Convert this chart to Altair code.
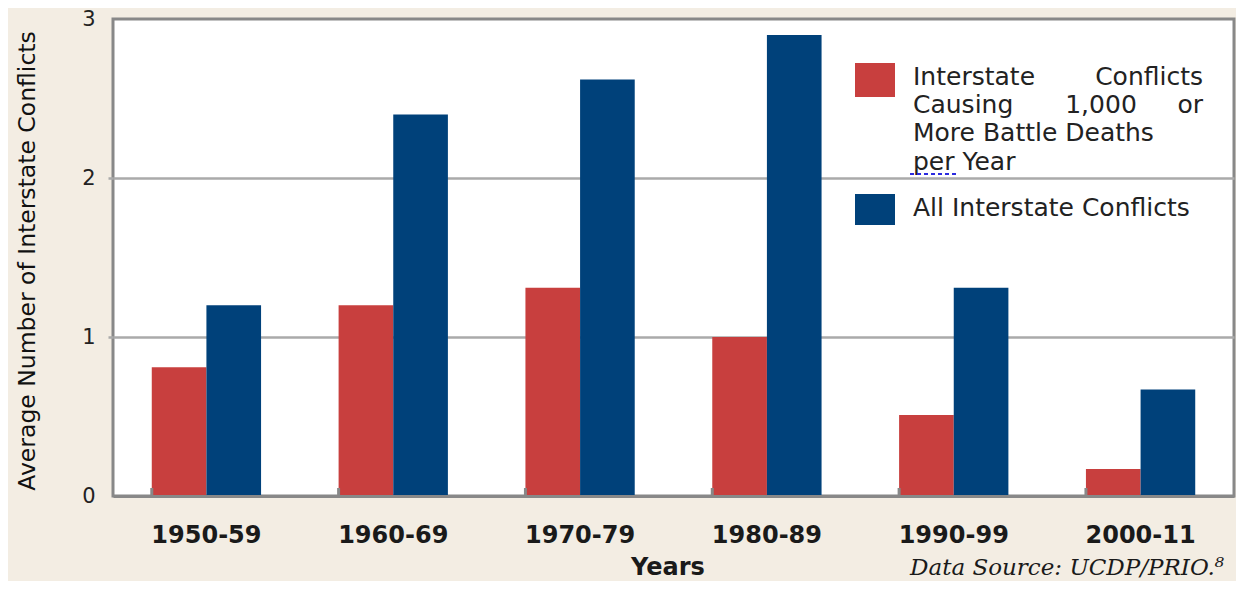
import altair as alt
import pandas as pd

# ---- data ----
periods = ["1950-59", "1960-69", "1970-79", "1980-89", "1990-99", "2000-11"]
series = ["Interstate Conflicts Causing 1,000 or More Battle Deaths per Year",
          "All Interstate Conflicts"]
major_conflicts = [0.81, 1.20, 1.31, 1.00, 0.51, 0.17]
all_conflicts = [1.20, 2.40, 2.62, 2.90, 1.31, 0.67]
y_ticks = [0, 1, 2, 3]
y_title = "Average Number of Interstate Conflicts"
x_title = "Years"
source_note = "Data Source: UCDP/PRIO.\u2078"
legend_lines = ["Interstate Conflicts", "Causing 1,000 or", "More Battle Deaths", "per Year"]

# ---- styling ----
bar_colors = ["#c83f3e", "#00417a"]
swatch_colors = ["#b8282f", "#00417a"]
BG = "#f3ede3"
FONT = "DejaVu Sans"
W, H = 1121, 477
PL = 105

rows = []
for p, a, b in zip(periods, major_conflicts, all_conflicts):
    rows.append({"period": p, "series": series[0], "value": a})
    rows.append({"period": p, "series": series[1], "value": b})
df = pd.DataFrame(rows)
pdf = pd.DataFrame({"period": periods})

xscale = alt.Scale(domain=periods, paddingInner=0.415, paddingOuter=0.2075)
edge_test = "datum.value == 0 || datum.value == 3"

bars = alt.Chart(df).mark_bar().encode(
    x=alt.X("period:N", sort=periods, scale=xscale,
            axis=alt.Axis(labels=False, ticks=False, domain=True, domainColor="#888888",
                          domainWidth=3, zindex=1, title=None, grid=False)),
    xOffset=alt.XOffset("series:N", sort=series,
                        scale=alt.Scale(domain=series, paddingInner=0, paddingOuter=0)),
    y=alt.Y("value:Q", scale=alt.Scale(domain=[0, 3], nice=False),
            axis=alt.Axis(values=y_ticks, title=None, domain=False, grid=True,
                          gridColor={"condition": {"test": edge_test, "value": "transparent"},
                                     "value": "#aaaaaa"},
                          gridWidth=2.5,
                          tickColor={"condition": {"test": edge_test, "value": "transparent"},
                                     "value": "#aaaaaa"},
                          tickSize=5, tickWidth=2.5,
                          labelFont=FONT, labelFontSize=21, labelColor="#222222",
                          labelPadding=13, labelBaseline="middle")),
    color=alt.Color("series:N", scale=alt.Scale(domain=series, range=bar_colors), legend=None),
)

seps = alt.Chart(pdf).mark_rule(color="#888888", strokeWidth=3).encode(
    x=alt.X("period:N", sort=periods, bandPosition=0),
    y=alt.value(H - 8), y2=alt.value(H),
)

xlabels = alt.Chart(pdf).mark_text(font=FONT, fontSize=24, fontWeight="bold",
                                   baseline="middle", color="#1a1a1a").encode(
    x=alt.X("period:N", sort=periods, bandPosition=0.5),
    y=alt.value(H + 40),
    text="period:N",
)

ytitle = alt.Chart(pd.DataFrame({"t": [y_title]})).mark_text(
    font=FONT, fontSize=23.5, angle=270, align="center",
    baseline="middle", color="#111111").encode(
    text="t:N", x=alt.value(-85), y=alt.value(242))

xtitle = alt.Chart(pd.DataFrame({"t": [x_title]})).mark_text(
    font=FONT, fontSize=24, fontWeight="bold", align="center",
    baseline="alphabetic", color="#1a1a1a").encode(
    text="t:N", x=alt.value(555), y=alt.value(H + 79))

source = alt.Chart(pd.DataFrame({"t": [source_note]})).mark_text(
    font="DejaVu Serif", fontSize=23, fontStyle="italic",
    align="left", baseline="alphabetic", color="#1a1a1a").encode(
    text="t:N", x=alt.value(797), y=alt.value(H + 79))

# ---- legend (drawn inside the plot) ----
sw = pd.DataFrame({"series": series, "x0": [742, 742], "x1": [782, 782],
                   "y0": [44, 175], "y1": [78, 206]})
swatches = alt.Chart(sw).mark_rect().encode(
    x=alt.X("x0:Q", scale=None), x2="x1:Q",
    y=alt.Y("y0:Q", scale=None), y2="y1:Q",
    color=alt.Color("series:N", scale=alt.Scale(domain=series, range=swatch_colors), legend=None),
)

assert " ".join(legend_lines) == series[0]
TL, TR = 800, 1090
baselines = [66, 94, 122, 151]
words = []
for i, line in enumerate(legend_lines):
    parts = line.split(" ")
    if i < 2:  # justified lines
        for j, w in enumerate(parts):
            if j == 0:
                words.append({"w": w, "x": TL, "y": baselines[i], "a": "left"})
            elif j == len(parts) - 1:
                words.append({"w": w, "x": TR, "y": baselines[i], "a": "right"})
            else:
                words.append({"w": w, "x": 988, "y": baselines[i], "a": "center"})
    else:
        words.append({"w": line, "x": TL, "y": baselines[i], "a": "left"})
words.append({"w": series[1], "x": TL, "y": 197, "a": "left"})
wdf = pd.DataFrame(words)

leg_text = []
for a in ["left", "center", "right"]:
    sub = wdf[wdf["a"] == a]
    leg_text.append(alt.Chart(sub).mark_text(
        font=FONT, fontSize=25, align=a, baseline="alphabetic",
        color="#222222").encode(
        x=alt.X("x:Q", scale=None), y=alt.Y("y:Q", scale=None), text="w:N"))

squiggle = alt.Chart(pd.DataFrame({"k": [0]})).mark_rule(
    color="#2a2ae0", strokeWidth=2, strokeDash=[4, 3]).encode(
    x=alt.value(797), x2=alt.value(845), y=alt.value(155))

chart = alt.layer(bars, seps, xlabels, ytitle, xtitle, source, swatches, *leg_text, squiggle).properties(
    width=W, height=H,
    autosize=alt.AutoSizeParams(type="none"),
    padding={"left": PL, "top": 11, "right": 2, "bottom": 85},
    background=BG,
).configure_view(stroke="#888888", strokeWidth=3, fill="white")

chart.save("out.html", embed_options={"renderer": "svg", "actions": False})
